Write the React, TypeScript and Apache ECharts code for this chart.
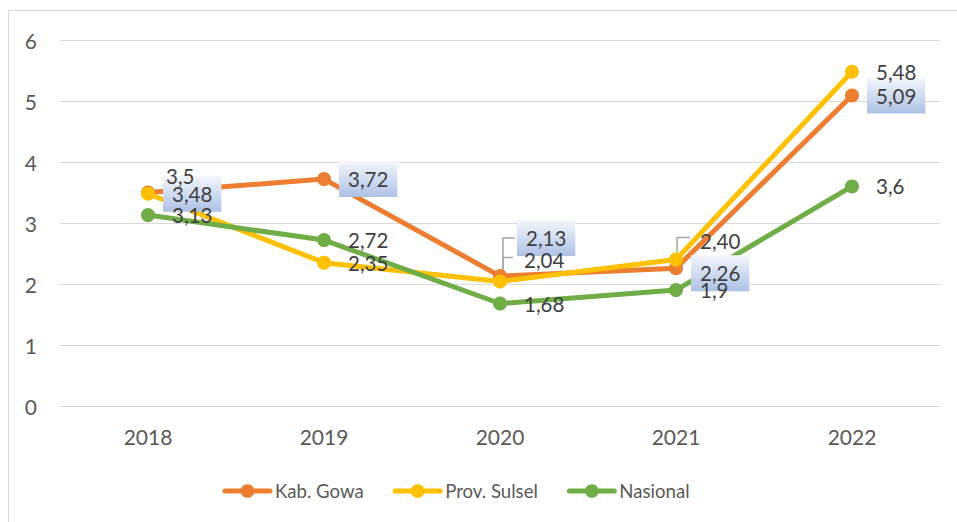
import React, { useEffect, useRef } from 'react';
import * as echarts from 'echarts';

const categories = ['2018', '2019', '2020', '2021', '2022'];
const seriesNames = ['Kab. Gowa', 'Prov. Sulsel', 'Nasional'];
const gowa = [3.5, 3.72, 2.13, 2.26, 5.09];
const sulsel = [3.48, 2.35, 2.04, 2.4, 5.48];
const nasional = [3.13, 2.72, 1.68, 1.9, 3.6];
const gowaLabels = ['3,5', '3,72', '2,13', '2,26', '5,09'];
const sulselLabels = ['3,48', '2,35', '2,04', '2,40', '5,48'];
const nasionalLabels = ['3,13', '2,72', '1,68', '1,9', '3,6'];

const colors = ['#ED7D31', '#FFC000', '#70AD47'];
const FONT = 'Lato, "Open Sans", sans-serif';

const values = [gowa, sulsel, nasional];
const labels = [gowaLabels, sulselLabels, nasionalLabels];

// label placement styles (pixel offsets), keyed "series-index"
const labelStyle: Record<string, { boxed?: boolean; dx?: number; dy?: number }> = {
  '0-0': { dx: -6, dy: -17 },
  '0-1': { boxed: true },
  '0-2': { boxed: true, dx: 2, dy: -38 },
  '0-3': { boxed: true, dy: 5 },
  '0-4': { boxed: true },
  '1-0': { boxed: true },
  '1-2': { dy: -22 },
  '1-3': { dy: -19 },
};

// leader line shapes (pixel offsets from the point)
const leaders = [
  { s: 0, i: 2, pts: [[3, -4], [3, -38], [15, -38]] },
  { s: 1, i: 2, pts: [[3, -4], [3, -24], [13, -24]] },
  { s: 1, i: 3, pts: [[1, -3], [1, -22], [14, -22]] },
];

export default function App() {
  const ref = useRef<HTMLDivElement>(null);
  useEffect(() => {
    if (!ref.current) return;
    const chart = echarts.init(ref.current, undefined, { renderer: 'svg' });
    const grad = new echarts.graphic.LinearGradient(0, 0, 0, 1, [
      { offset: 0, color: '#f4f7fc' },
      { offset: 1, color: '#adc1e5' },
    ]);
    const labelData: number[][] = [];
    values.forEach((arr, s) => arr.forEach((v, i) => labelData.push([i, v, s])));

    const makeLabelItem = (withBox: boolean) => (params: any, api: any) => {
      const i = api.value(0) as number;
      const v = api.value(1) as number;
      const s = api.value(2) as number;
      const spec = labelStyle[`${s}-${i}`] || {};
      if (withBox && !spec.boxed) return { type: 'group', children: [] };
      const p = api.coord([i, v]);
      return {
        type: 'text',
        x: p[0] + (spec.boxed ? 15 : 24) + (spec.dx || 0),
        y: p[1] + (spec.dy || 0),
        style: {
          text: labels[s][i],
          fill: withBox ? 'rgba(0,0,0,0)' : '#404040',
          fontSize: 20.5,
          fontFamily: FONT,
          lineHeight: 22,
          align: 'left',
          verticalAlign: 'middle',
          padding: spec.boxed ? [7, 9] : 0,
          backgroundColor: withBox ? grad : undefined,
        },
      };
    };

    chart.setOption({
      animation: false,
      backgroundColor: '#ffffff',
      textStyle: { fontFamily: FONT },
      graphic: [
        {
          type: 'rect',
          x: 8.5,
          y: 10.5,
          shape: { width: 1000, height: 1000 },
          style: { fill: 'none', stroke: '#d9d9d9', lineWidth: 1 },
          silent: true,
        },
      ],
      grid: { left: 60, right: 17, top: 40, bottom: 116 },
      legend: {
        data: seriesNames,
        left: 217.5,
        top: 474,
        itemWidth: 45,
        itemHeight: 17,
        itemGap: 29,
        lineStyle: { width: 5, cap: 'round' },
        textStyle: { color: '#595959', fontSize: 18.6, fontFamily: FONT, lineHeight: 24 },
      },
      xAxis: {
        type: 'category',
        data: categories,
        boundaryGap: true,
        axisLine: { lineStyle: { color: '#d9d9d9', width: 1 } },
        axisTick: { show: false },
        axisLabel: { color: '#595959', fontSize: 21, fontFamily: FONT, margin: 20 },
      },
      yAxis: {
        type: 'value',
        min: 0,
        max: 6,
        interval: 1,
        axisLine: { show: false },
        axisTick: { show: false },
        splitLine: { lineStyle: { color: '#d9d9d9', width: 1 } },
        axisLabel: { color: '#595959', fontSize: 21, fontFamily: FONT, margin: 23 },
      },
      series: [
        {
          type: 'custom',
          name: 'leaders',
          z: 1,
          silent: true,
          data: leaders.map((l) => [l.i, values[l.s][l.i], l.s]),
          renderItem: (params: any, api: any) => {
            const l = leaders[params.dataIndex];
            const p = api.coord([api.value(0), api.value(1)]);
            return {
              type: 'polyline',
              shape: { points: l.pts.map((d) => [p[0] + d[0], p[1] + d[1]]) },
              style: { stroke: '#a6a6a6', lineWidth: 1.5, fill: 'none' },
            };
          },
        },
        ...seriesNames.map((name, s) => ({
          type: 'line',
          name,
          z: 2,
          data: values[s],
          symbol: 'circle',
          symbolSize: 14,
          showAllSymbol: true,
          color: colors[s],
          itemStyle: { color: colors[s] },
          lineStyle: { color: colors[s], width: 5, cap: 'round', join: 'round' },
          label: { show: false },
          emphasis: { disabled: true },
        })),
        {
          type: 'custom',
          name: 'labelBoxes',
          z: 3,
          silent: true,
          clip: false,
          data: labelData,
          renderItem: makeLabelItem(true),
        },
        {
          type: 'custom',
          name: 'labelTexts',
          z: 4,
          silent: true,
          clip: false,
          data: labelData,
          renderItem: makeLabelItem(false),
        },
      ],
    });
    return () => chart.dispose();
  }, []);
  return (
    <div
      ref={ref}
      style={{ position: 'absolute', left: 0, top: 0, width: 957, height: 522, background: '#fff' }}
    />
  );
}
